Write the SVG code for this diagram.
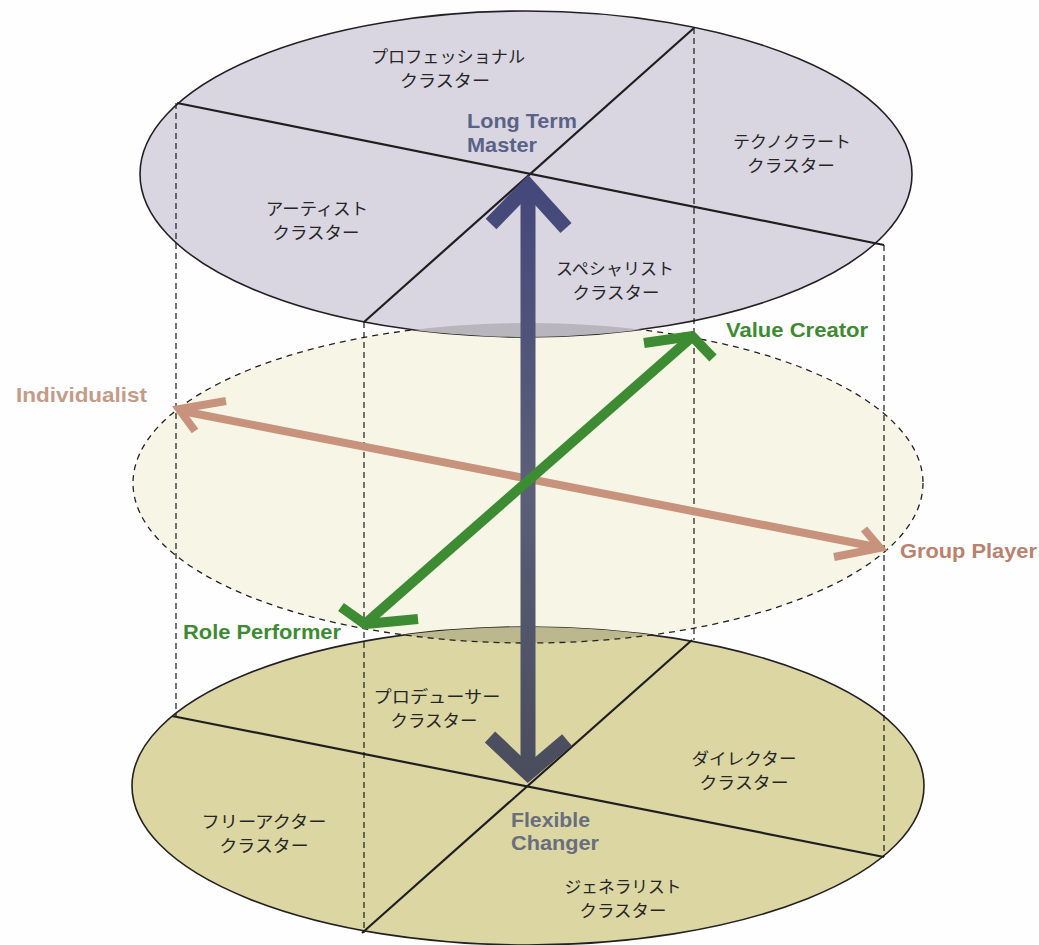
<svg xmlns="http://www.w3.org/2000/svg" width="1039" height="945" viewBox="0 0 1039 945">
<style>
.jp{font-family:"Noto Sans CJK JP","Liberation Sans",sans-serif;font-size:16.5px;fill:#262626;text-anchor:middle}
.en{font-family:"Liberation Sans",Arial,sans-serif;font-weight:bold;font-size:21px}
.div{stroke:#1f1f1f;stroke-width:2.2;fill:none}
.vd{stroke:#1a1a1a;stroke-width:1.2;stroke-dasharray:6 4;fill:none}
.edge{stroke:#222;stroke-width:1.6}
</style>
<defs>
<clipPath id="midClip"><ellipse cx="528" cy="483" rx="395" ry="160"/></clipPath>
<linearGradient id="navy" gradientUnits="userSpaceOnUse" x1="0" y1="175" x2="0" y2="785">
<stop offset="0" stop-color="#43477a"/><stop offset="0.5" stop-color="#5b5f79"/><stop offset="1" stop-color="#484c5c"/>
</linearGradient>
</defs>
<rect width="1039" height="945" fill="#fefefe"/>

<g id="middle-plane">
<ellipse cx="528" cy="483" rx="395" ry="160" fill="#f7f5e6"/>
</g>

<g id="bottom-plane">
<ellipse cx="528" cy="786" rx="396" ry="159" fill="#dcd6a3" class="edge"/>
<ellipse cx="528" cy="786" rx="396" ry="159" fill="#bcb88e" clip-path="url(#midClip)"/>
<line class="div" x1="172" y1="716" x2="884" y2="857"/>
<line class="div" x1="692" y1="640" x2="362" y2="933"/>
</g>

<g id="middle-outline">
<ellipse cx="528" cy="483" rx="395" ry="160" fill="none" stroke="#222" stroke-width="1.3" stroke-dasharray="6 5"/>
</g>

<g id="top-plane">
<ellipse cx="526" cy="174" rx="386" ry="163" fill="#d9d6e2" class="edge"/>
<ellipse cx="526" cy="174" rx="386" ry="163" fill="#b8b5bd" clip-path="url(#midClip)"/>
<line class="div" x1="177" y1="103" x2="884" y2="245"/>
<line class="div" x1="694" y1="28" x2="364" y2="322"/>
</g>

<g id="connectors">
<line class="vd" x1="176" y1="103" x2="176" y2="716"/>
<line class="vd" x1="364" y1="322" x2="364" y2="933"/>
<line class="vd" x1="694" y1="28" x2="694" y2="640"/>
<line class="vd" x1="884" y1="245" x2="884" y2="857"/>

<g id="axis-individual-group" stroke="#c8937d" fill="none" stroke-width="8">
<line x1="182" y1="411" x2="876" y2="547"/>
<polyline points="226,401 179,409 195,431" stroke-linejoin="miter"/>
<polyline points="864,529 880,548 834,557" stroke-linejoin="miter"/>
</g>
<g id="axis-master-changer" stroke="url(#navy)" fill="none" stroke-width="15">
<line x1="528" y1="192" x2="528" y2="772"/>
<polyline points="491,224 528,186 566,228" stroke-linejoin="miter"/>
<polyline points="490,737 528,773 567,740" stroke-linejoin="miter"/>
</g>
<g id="axis-value-role" stroke="#3d8b33" fill="none" stroke-width="10">
<line x1="366" y1="623" x2="692" y2="337"/>
<polyline points="644,343 692,336 713,358" stroke-linejoin="miter"/>
<polyline points="341,607 365,624 418,619" stroke-linejoin="miter"/>
</g>
</g>

<g id="labels-top">
<text class="jp"><tspan x="448" y="63" textLength="154" lengthAdjust="spacingAndGlyphs">プロフェッショナル</tspan><tspan x="445" y="87" textLength="90" lengthAdjust="spacingAndGlyphs">クラスター</tspan></text>
<text class="jp"><tspan x="792" y="148" textLength="118" lengthAdjust="spacingAndGlyphs">テクノクラート</tspan><tspan x="791" y="172" textLength="88" lengthAdjust="spacingAndGlyphs">クラスター</tspan></text>
<text class="jp"><tspan x="317" y="215" textLength="102" lengthAdjust="spacingAndGlyphs">アーティスト</tspan><tspan x="316" y="239" textLength="87" lengthAdjust="spacingAndGlyphs">クラスター</tspan></text>
<text class="jp"><tspan x="615" y="275" textLength="118" lengthAdjust="spacingAndGlyphs">スペシャリスト</tspan><tspan x="616" y="299" textLength="87" lengthAdjust="spacingAndGlyphs">クラスター</tspan></text>
</g>
<g id="labels-bottom">
<text class="jp"><tspan x="437" y="703" textLength="127" lengthAdjust="spacingAndGlyphs">プロデューサー</tspan><tspan x="434" y="727" textLength="87" lengthAdjust="spacingAndGlyphs">クラスター</tspan></text>
<text class="jp"><tspan x="744" y="765" textLength="105" lengthAdjust="spacingAndGlyphs">ダイレクター</tspan><tspan x="744" y="789" textLength="89" lengthAdjust="spacingAndGlyphs">クラスター</tspan></text>
<text class="jp"><tspan x="264" y="828" textLength="125" lengthAdjust="spacingAndGlyphs">フリーアクター</tspan><tspan x="264" y="852" textLength="89" lengthAdjust="spacingAndGlyphs">クラスター</tspan></text>
<text class="jp"><tspan x="623" y="893" textLength="117" lengthAdjust="spacingAndGlyphs">ジェネラリスト</tspan><tspan x="623" y="917" textLength="87" lengthAdjust="spacingAndGlyphs">クラスター</tspan></text>
</g>

<g id="axis-labels">
<text class="en" fill="#5a6387"><tspan x="467" y="128" textLength="110" lengthAdjust="spacingAndGlyphs">Long Term</tspan><tspan x="467" y="152" textLength="70" lengthAdjust="spacingAndGlyphs">Master</tspan></text>
<text class="en" fill="#696e7e"><tspan x="511" y="827" textLength="79" lengthAdjust="spacingAndGlyphs">Flexible</tspan><tspan x="511" y="850" textLength="88" lengthAdjust="spacingAndGlyphs">Changer</tspan></text>
<text class="en" x="726" y="337" fill="#3f8a33" textLength="142" lengthAdjust="spacingAndGlyphs">Value Creator</text>
<text class="en" x="183" y="639" fill="#3f8a33" textLength="158" lengthAdjust="spacingAndGlyphs">Role Performer</text>
<text class="en" x="16" y="402" fill="#c59b88" textLength="131" lengthAdjust="spacingAndGlyphs">Individualist</text>
<text class="en" x="900" y="558" fill="#b9826f" textLength="137" lengthAdjust="spacingAndGlyphs">Group Player</text>
</g>
</svg>
